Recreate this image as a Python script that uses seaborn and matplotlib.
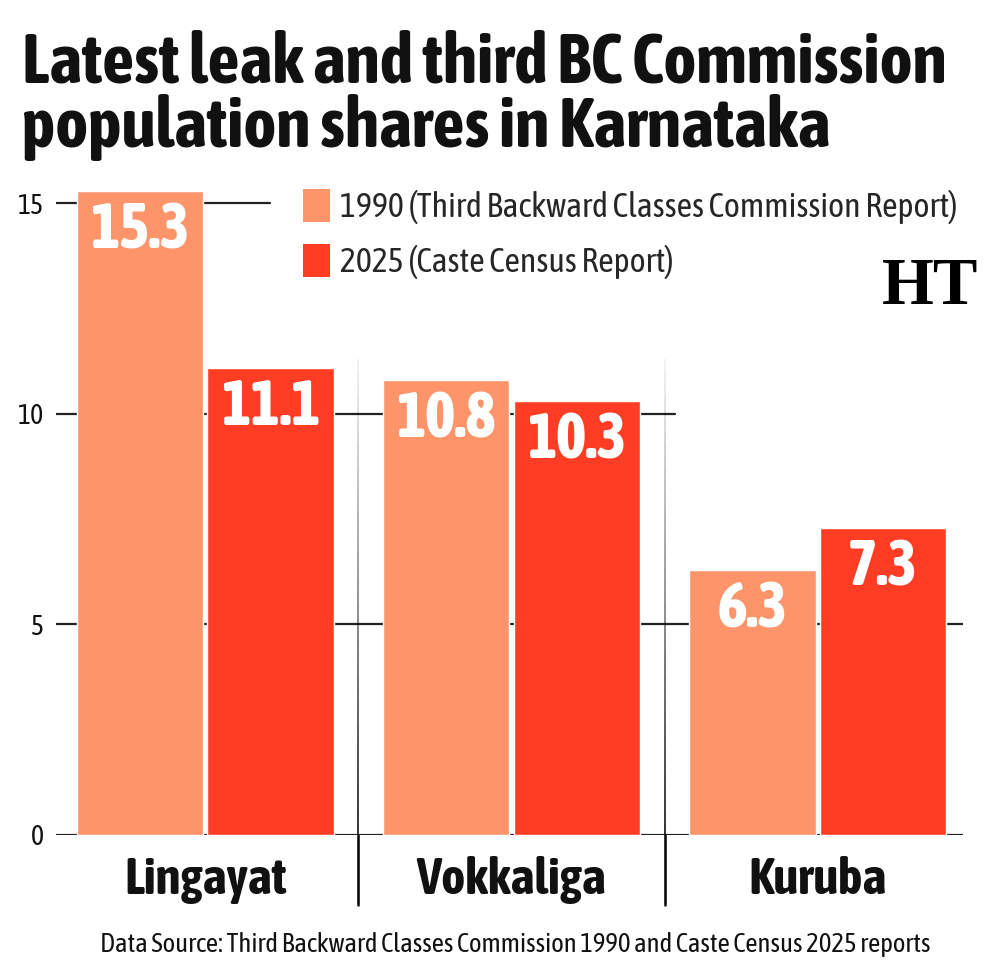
import numpy as np
import pandas as pd
import seaborn as sns
import matplotlib
matplotlib.use("Agg")
import matplotlib.pyplot as plt
from matplotlib.patches import Patch

# data (population share, %)
castes = ["Lingayat", "Vokkaliga", "Kuruba"]
share_1990 = [15.3, 10.8, 6.3]
share_2025 = [11.1, 10.3, 7.3]
series = ["1990 (Third Backward Classes Commission Report)", "2025 (Caste Census Report)"]
colors = ["#FE956A", "#FF3D24"]
yticks = [0, 5, 10, 15]

df = pd.DataFrame({
    "caste": castes * 2,
    "series": [series[0]] * 3 + [series[1]] * 3,
    "share": share_1990 + share_2025,
})

sns.set_theme(style="white")
FONT = ["Asap Condensed", "DejaVu Sans"]
plt.rcParams["font.family"] = FONT

fig = plt.figure(figsize=(10, 9.76), dpi=100)
ax = fig.add_axes([0.056, 0.1445, 0.907, 0.6731])

sns.barplot(data=df, x="caste", y="share", hue="series", hue_order=series,
            order=castes, palette=dict(zip(series, colors)), saturation=1,
            width=0.853, gap=0.034, legend=False, ax=ax, zorder=3)

ax.set_xlim(-0.487, 2.474)
ax.set_ylim(0, 15.6)

# gridlines, partly hidden behind the bars
grid_ext = {0: 1.0, 5: 1.0, 10: 0.682, 15: 0.236}
for v in yticks:
    ax.axhline(v, xmin=0, xmax=grid_ext[v], color="#222222", lw=1.6, zorder=1)

# group separators: fading grey inside the plot, black under the axis
for xs in [0.5, 1.5]:
    levels = np.linspace(11.3, 0, 40)
    for i in range(len(levels) - 1):
        a = 0.05 + 0.75 * i / (len(levels) - 2)
        ax.plot([xs, xs], [levels[i], levels[i + 1]], color="black", alpha=a,
                lw=1.4, zorder=2, solid_capstyle="butt")
    ax.plot([xs, xs], [0, -0.107], color="black", lw=1.8,
            transform=ax.get_xaxis_transform(), clip_on=False, zorder=2)

# value labels inside the bars
for cont in ax.containers:
    for bar in cont:
        h = bar.get_height()
        ax.annotate(f"{h:.1f}", (bar.get_x() + bar.get_width() / 2, h),
                    xytext=(0, -7), textcoords="offset points",
                    ha="center", va="top", color="white", fontsize=45,
                    fontweight="heavy", zorder=4)

sns.despine(ax=ax, left=True, bottom=True, top=True, right=True)
ax.set_yticks(yticks)
ax.set_yticklabels([str(v) for v in yticks], fontsize=20, color="#111111")
ax.tick_params(axis="y", length=0, pad=9)
ax.tick_params(axis="x", length=0, pad=15)
ax.set_xticklabels(castes, fontsize=37, fontweight="bold", color="#111111")
ax.set_xlabel("")
ax.set_ylabel("")

handles = [Patch(facecolor=c, edgecolor="none") for c in colors]
ax.legend(handles, series, loc="upper left", bbox_to_anchor=(0.303, 0.806),
          bbox_transform=fig.transFigure, frameon=False, fontsize=24.4,
          handlelength=0.8, handleheight=1.12, handletextpad=0.3,
          labelspacing=0.58, borderpad=0, borderaxespad=0)

fig.text(0.022, 0.9698, "Latest leak and third BC Commission\npopulation shares in Karnataka",
         ha="left", va="top", fontsize=50.7, fontweight="bold", color="#111111",
         linespacing=0.95)

fig.text(0.930, 0.705, "HT", ha="center", va="center", fontsize=48,
         fontweight="bold", family=["Liberation Serif", "DejaVu Serif"], color="black")

fig.text(0.515, 0.032, "Data Source: Third Backward Classes Commission 1990 and Caste Census 2025 reports",
         ha="center", va="center", fontsize=19.3, color="#111111")

fig.savefig("out.png", dpi=100, facecolor="white")
